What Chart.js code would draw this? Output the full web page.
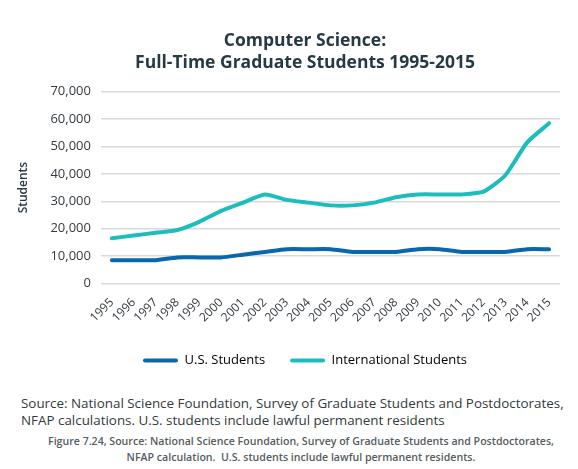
<!DOCTYPE html>
<html>
<head>
<meta charset="utf-8">
<script src="https://cdn.jsdelivr.net/npm/chart.js@4.4.1/dist/chart.umd.min.js"></script>
<style>
  html, body { margin: 0; padding: 0; background: #ffffff; }
  body { width: 578px; height: 469px; position: relative; overflow: hidden; font-family: "Open Sans", sans-serif; }
  #wrap { position: absolute; left: 0; top: 0; width: 578px; height: 377px; }
  #src { position: absolute; left: 21px; top: 395px; font-size: 13.4px; line-height: 17px; color: #333a40; white-space: nowrap; }
  #fig { position: absolute; left: 12px; width: 578px; top: 433px; text-align: center; font-size: 10.6px; line-height: 16px; color: #555c62; font-weight: 600; white-space: nowrap; }
</style>
</head>
<body>
<div id="wrap"><canvas id="c"></canvas></div>
<div id="src">Source: National Science Foundation, Survey of Graduate Students and Postdoctorates,<br>NFAP calculations. U.S. students include lawful permanent residents</div>
<div id="fig">Figure 7.24, Source: National Science Foundation, Survey of Graduate Students and Postdoctorates,<br>NFAP calculation.&nbsp; U.S. students include lawful permanent residents.</div>
<script>
const years = ["1995","1996","1997","1998","1999","2000","2001","2002","2003","2004","2005","2006","2007","2008","2009","2010","2011","2012","2013","2014","2015"];
const usStudents = [8500,8500,8500,9500,9500,9500,10500,11500,12500,12500,12500,11500,11500,11500,12500,12500,11500,11500,11500,12500,12500];
const intlStudents = [16500,17500,18500,19500,22500,26500,29500,32500,30500,29500,28500,28500,29500,31500,32500,32500,32500,33500,39500,51500,58500];
const titleLines = ["Computer Science:", "Full-Time Graduate Students 1995-2015"];
const yTicks = [0,10000,20000,30000,40000,50000,60000,70000];

// shift title and legend horizontally so they are centred like the reference
const centreShift = {
  id: 'centreShift',
  afterLayout(chart) {
    const dx = 19;
    [chart.titleBlock, chart.legend].forEach(b => {
      if (!b) return;
      b.left += dx; b.right += dx;
      if (b.legendHitBoxes) b.legendHitBoxes.forEach(h => { h.left += dx; });
    });
  }
};

new Chart(document.getElementById('c'), {
  type: 'line',
  data: {
    labels: years,
    datasets: [
      { label: 'U.S. Students', data: usStudents, borderColor: '#0b67ad', backgroundColor: '#0b67ad', borderWidth: 4, pointRadius: 0, tension: 0.2, borderCapStyle: 'round', borderJoinStyle: 'round' },
      { label: 'International Students', data: intlStudents, borderColor: '#1cbdbd', backgroundColor: '#1cbdbd', borderWidth: 4, pointRadius: 0, tension: 0.2, borderCapStyle: 'round', borderJoinStyle: 'round' }
    ]
  },
  plugins: [centreShift],
  options: {
    responsive: true,
    maintainAspectRatio: false,
    animation: false,
    layout: { padding: { left: 12, right: 18, top: 30, bottom: 0 } },
    plugins: {
      title: {
        display: true,
        text: titleLines,
        color: '#263a44',
        font: { family: "'Open Sans', sans-serif", size: 17.5, weight: 'bold', lineHeight: 1.25 },
        padding: { top: 0, bottom: 18 }
      },
      legend: {
        position: 'bottom',
        labels: {
          color: '#333a40',
          font: { family: "'Open Sans', sans-serif", size: 13 },
          boxWidth: 35, boxHeight: 4, padding: 25,
          generateLabels: (chart) => chart.data.datasets.map((d, i) => ({
            text: d.label, fillStyle: d.borderColor, strokeStyle: d.borderColor, lineWidth: 0, datasetIndex: i, borderRadius: 2
          }))
        }
      },
      tooltip: { enabled: false }
    },
    scales: {
      x: {
        offset: true,
        grid: { display: false },
        border: { display: false },
        ticks: {
          autoSkip: false, minRotation: 45, maxRotation: 45,
          color: '#333a40', font: { family: "'Open Sans', sans-serif", size: 12 }, padding: 4
        }
      },
      y: {
        min: 0, max: 70000,
        afterBuildTicks: (s) => { s.ticks = yTicks.map(v => ({ value: v })); },
        grid: { color: '#d9d9d9', lineWidth: 1.5, drawTicks: false },
        border: { display: false },
        title: { display: true, text: 'Students', color: '#263a44', font: { family: "'Open Sans', sans-serif", size: 12, weight: '600' }, padding: { bottom: 10 } },
        ticks: {
          color: '#333a40', font: { family: "'Open Sans', sans-serif", size: 13 }, padding: 10,
          callback: (v) => v.toLocaleString('en-US')
        }
      }
    }
  }
});
</script>
</body>
</html>
